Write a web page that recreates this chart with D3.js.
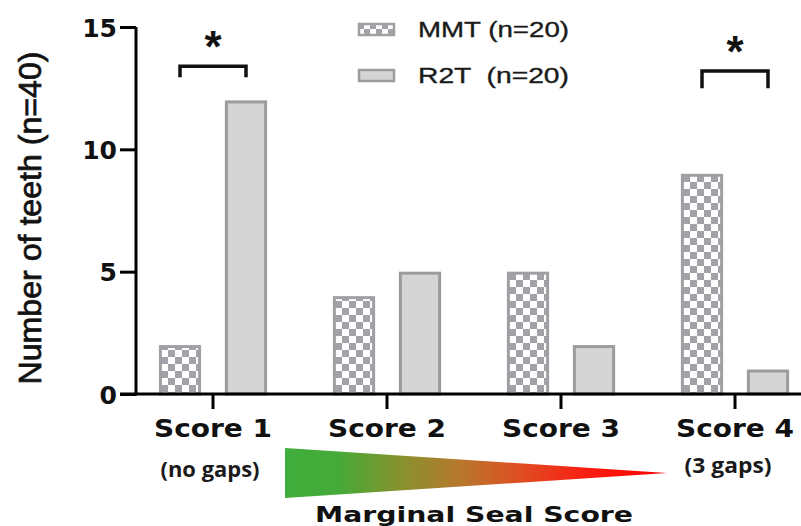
<!DOCTYPE html>
<html>
<head>
<meta charset="utf-8">
<script src="https://cdn.jsdelivr.net/npm/d3@7"></script>
<style>
  html, body { margin: 0; padding: 0; background: #ffffff; }
  svg { display: block; }
  text { white-space: pre; }
</style>
</head>
<body>
<svg id="chart" width="801" height="526"></svg>
<script>
// ---------- data ----------
const categories = ["Score 1", "Score 2", "Score 3", "Score 4"];
const subLabels = ["(no gaps)", "", "", "(3 gaps)"];
const seriesKeys = ["MMT", "R2T"];
const seriesLabels = ["MMT (n=20)", "R2T  (n=20)"];
const mmtValues = [2, 4, 5, 9];
const r2tValues = [12, 5, 2, 1];
const yTicks = [0, 5, 10, 15];
const sigCategories = ["Score 1", "Score 4"];
const sigLevels = [13.4, 13.2];      // bracket heights (data units)
const sigLegs = [0.45, 0.7];         // leg length (data units)
const sigMarks = ["*", "*"];
const axisTitleY = "Number of teeth (n=40)";
const axisTitleX = "Marginal Seal Score";

// ---------- setup ----------
const svg = d3.select("#chart");
const W = 801, H = 526;

const x0 = d3.scaleBand().domain(categories).range([126, 822]).padding(0);
const half = x0.bandwidth() / 2;
const x1 = d3.scaleBand().domain(seriesKeys)
  .range([half - 66, half + 66]).paddingInner(0.36).paddingOuter(0.18);
const y = d3.scaleLinear().domain([0, 15]).range([394, 27]);

const defs = svg.append("defs");
// checker pattern for MMT bars
const pat = defs.append("pattern").attr("id", "checker")
  .attr("patternUnits", "userSpaceOnUse").attr("width", 14).attr("height", 14);
pat.append("rect").attr("width", 14).attr("height", 14).attr("fill", "#ffffff");
pat.append("rect").attr("width", 7).attr("height", 7).attr("fill", "#a2a2a8");
pat.append("rect").attr("x", 7).attr("y", 7).attr("width", 7).attr("height", 7).attr("fill", "#a2a2a8");
// smaller checker for legend
const pat2 = defs.append("pattern").attr("id", "checkerSmall")
  .attr("patternUnits", "userSpaceOnUse").attr("width", 12).attr("height", 12)
  .attr("x", 358).attr("y", 23);
pat2.append("rect").attr("width", 12).attr("height", 12).attr("fill", "#ffffff");
pat2.append("rect").attr("width", 6).attr("height", 6).attr("fill", "#a2a2a8");
pat2.append("rect").attr("x", 6).attr("y", 6).attr("width", 6).attr("height", 6).attr("fill", "#a2a2a8");

// gradient for the wedge
const grad = defs.append("linearGradient").attr("id", "wedgeGrad")
  .attr("x1", "0%").attr("x2", "100%").attr("y1", "0%").attr("y2", "0%");
[[0, "#3fae3c"], [0.14, "#45aa38"], [0.3, "#86922e"], [0.46, "#b8782c"],
 [0.62, "#e04c22"], [0.8, "#fb1a10"], [1, "#ff0000"]].forEach(([o, c]) =>
  grad.append("stop").attr("offset", o).attr("stop-color", c));

const fills = { MMT: "url(#checker)", R2T: "#d5d5d5" };
const strokes = { MMT: "#a0a0a4", R2T: "#9c9c9c" };

// ---------- bars ----------
const rows = categories.map((c, i) => ({ cat: c, MMT: mmtValues[i], R2T: r2tValues[i] }));
const groups = svg.append("g").selectAll("g").data(rows).join("g")
  .attr("transform", d => `translate(${x0(d.cat)},0)`);
groups.selectAll("rect").data(d => seriesKeys.map(k => ({ key: k, value: d[k] })))
  .join("rect")
  .attr("x", d => x1(d.key) + 1.5)
  .attr("width", x1.bandwidth() - 3)
  .attr("y", d => y(d.value) + 1.5)
  .attr("height", d => y(0) - y(d.value) - 1.5)
  .attr("fill", d => fills[d.key])
  .attr("stroke", d => strokes[d.key])
  .attr("stroke-width", 3);

// ---------- axes ----------
const yAxis = d3.axisLeft(y).tickValues(yTicks).tickSize(16).tickPadding(3).tickSizeOuter(0);
const gy = svg.append("g").attr("transform", "translate(136,0)").call(yAxis);
gy.select(".domain").attr("stroke", "#000").attr("stroke-width", 3)
  .attr("d", `M0,${y(15)}V${y(0) + 1.5}`);
gy.selectAll(".tick line").attr("stroke", "#000").attr("stroke-width", 3);
gy.selectAll(".tick text")
  .attr("fill", "#111").attr("font-family", "DejaVu Sans").attr("font-weight", "bold")
  .attr("font-size", 25).attr("dy", "0.36em");

const xAxis = d3.axisBottom(x0).tickSize(15).tickPadding(10).tickSizeOuter(0);
const gx = svg.append("g").attr("transform", `translate(0,${y(0)})`).call(xAxis);
gx.select(".domain").attr("stroke", "#000").attr("stroke-width", 3)
  .attr("d", `M120,0H${W}`);
gx.selectAll(".tick line").attr("stroke", "#000").attr("stroke-width", 3);
gx.selectAll(".tick text")
  .attr("fill", "#111").attr("font-family", "DejaVu Sans").attr("font-weight", "bold")
  .attr("font-size", 25).attr("dy", "0.72em")
  .attr("textLength", 118).attr("lengthAdjust", "spacingAndGlyphs");

// sub labels
const subPos = [{ dx: -3, y: 477 }, null, null, { dx: -7, y: 473 }];
svg.append("g").selectAll("text")
  .data(categories.map((c, i) => ({ c, t: subLabels[i], p: subPos[i] })).filter(d => d.t))
  .join("text")
  .attr("x", d => x0(d.c) + half + d.p.dx)
  .attr("y", d => d.p.y)
  .attr("text-anchor", "middle")
  .attr("font-family", "Open Sans").attr("font-weight", 700).attr("font-size", 22)
  .attr("fill", "#1a1a1a")
  .attr("textLength", d => d.t === "(no gaps)" ? 99 : 87)
  .attr("lengthAdjust", "spacingAndGlyphs")
  .text(d => d.t);

// wedge
svg.append("path")
  .attr("d", `M285,448L667,473L285,498Z`)
  .attr("fill", "url(#wedgeGrad)");

// x title
svg.append("text")
  .attr("x", 474).attr("y", 522).attr("text-anchor", "middle")
  .attr("font-family", "DejaVu Sans").attr("font-weight", "bold").attr("font-size", 21)
  .attr("fill", "#111")
  .attr("textLength", 318).attr("lengthAdjust", "spacingAndGlyphs")
  .text(axisTitleX);

// y title
svg.append("text")
  .attr("transform", "translate(41,218) rotate(-90)")
  .attr("text-anchor", "middle")
  .attr("font-family", "Liberation Sans").attr("font-size", 31.5)
  .attr("fill", "#111").attr("stroke", "#111").attr("stroke-width", 0.7)
  .attr("textLength", 333).attr("lengthAdjust", "spacingAndGlyphs")
  .text(axisTitleY);

// ---------- significance ----------
sigCategories.forEach((c, i) => {
  const xa = x0(c) + x1("MMT") + x1.bandwidth() / 2;
  const xb = x0(c) + x1("R2T") + x1.bandwidth() / 2;
  const yl = y(sigLevels[i]);
  const yleg = y(sigLevels[i] - sigLegs[i]);
  svg.append("path")
    .attr("d", `M${xa},${yleg}V${yl}H${xb}V${yleg}`)
    .attr("fill", "none").attr("stroke", "#111").attr("stroke-width", 3.5);
  svg.append("text")
    .attr("x", (xa + xb) / 2).attr("y", yl - 4)
    .attr("text-anchor", "middle")
    .attr("font-family", "Liberation Sans").attr("font-weight", "bold").attr("font-size", 44)
    .attr("fill", "#111")
    .text(sigMarks[i]);
});

// ---------- legend ----------
const legend = svg.append("g");
const legY = [23, 69];
seriesKeys.forEach((k, i) => {
  legend.append("rect")
    .attr("x", 359).attr("y", legY[i] + 1).attr("width", 35).attr("height", 11)
    .attr("fill", k === "MMT" ? "url(#checkerSmall)" : fills[k])
    .attr("stroke", strokes[k]).attr("stroke-width", 2.5);
  legend.append("text")
    .attr("x", 418).attr("y", legY[i] + 14)
    .attr("font-family", "Liberation Sans").attr("font-size", 22)
    .attr("fill", "#1a1a1a").attr("stroke", "#1a1a1a").attr("stroke-width", 0.35)
    .attr("textLength", 151).attr("lengthAdjust", "spacingAndGlyphs")
    .text(seriesLabels[i]);
});
</script>
</body>
</html>
